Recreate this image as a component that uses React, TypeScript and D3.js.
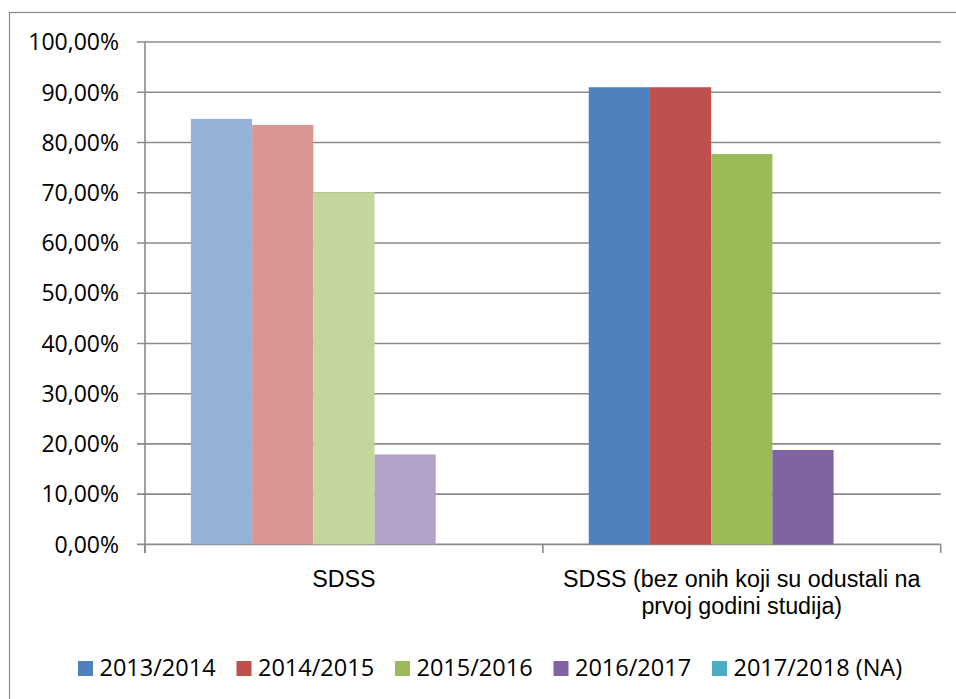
import * as d3 from "d3"

// categories and series (values in %)
const categories = ["SDSS", "SDSS (bez onih koji su odustali na prvoj godini studija)"]
const categoryLines = [["SDSS"], ["SDSS (bez onih koji su odustali na", "prvoj godini studija)"]]
const seriesNames = ["2013/2014", "2014/2015", "2015/2016", "2016/2017", "2017/2018 (NA)"]
const v2013 = [84.7, 91.0]
const v2014 = [83.5, 91.0]
const v2015 = [70.1, 77.7]
const v2016 = [17.9, 18.8]
const v2017 = [0, 0]
const yTicks = [0, 10, 20, 30, 40, 50, 60, 70, 80, 90, 100]

const seriesValues = [v2013, v2014, v2015, v2016, v2017]
// first category uses lighter shades
const baseColors = ["#4F81BD", "#C0504D", "#9BBB59", "#8064A2", "#4BACC6"]
const lightColors = ["#95B3D7", "#D99694", "#C3D69B", "#B2A2C7", "#93CDDD"]

const W = 956
const H = 699
const font = "'Open Sans', sans-serif"
const catFont = "'Liberation Sans', Arial, sans-serif"

export default function App() {
  const left = 145
  const right = 940.7
  const top = 42
  const bottom = 544.4

  const y = d3.scaleLinear().domain([0, 100]).range([bottom, top])
  const x0 = d3.scaleBand<string>().domain(categories).range([left, right]).padding(0)
  const x1 = d3
    .scaleBand<string>()
    .domain(seriesNames)
    .range([0, x0.bandwidth()])
    .paddingInner(0)
    .paddingOuter(0.75)

  const fmt = (v: number) => d3.format(".2f")(v).replace(".", ",") + "%"

  const catEdges = [left, ...categories.map(c => (x0(c) as number) + x0.bandwidth())]

  const legendX = d3.scalePoint<string>().domain(seriesNames).range([78, 712])

  return (
    <svg
      width={W}
      height={H}
      style={{ position: "absolute", left: 0, top: 0, background: "#fff" }}
      fontFamily={font}
    >
      <rect x={0} y={0} width={W} height={H} fill="#fff" />
      <rect x={9.5} y={12.5} width={950} height={700} fill="none" stroke="#888" strokeWidth={1.2} />

      {/* gridlines and y ticks */}
      {yTicks.map(t => (
        <g key={t}>
          <line x1={137} x2={right} y1={y(t)} y2={y(t)} stroke="#8a8a8a" strokeWidth={1.6} />
          <text
            x={119}
            y={y(t)}
            dy="0.36em"
            textAnchor="end"
            fontSize={23}
            fill="#000"
          >
            {fmt(t)}
          </text>
        </g>
      ))}

      {/* y axis line */}
      <line x1={left} x2={left} y1={top} y2={553} stroke="#8a8a8a" strokeWidth={1.6} />
      {/* category ticks */}
      {catEdges.map((e, i) => (
        <line key={i} x1={e} x2={e} y1={bottom} y2={553} stroke="#8a8a8a" strokeWidth={1.6} />
      ))}

      {/* bars */}
      {categories.map((c, ci) => (
        <g key={c} transform={`translate(${x0(c)},0)`}>
          {seriesNames.map((s, si) => {
            const v = seriesValues[si][ci]
            if (!v) return null
            return (
              <rect
                key={s}
                x={x1(s)}
                y={y(v)}
                width={x1.bandwidth()}
                height={y(0) - y(v)}
                fill={ci === 0 ? lightColors[si] : baseColors[si]}
              />
            )
          })}
        </g>
      ))}

      {/* category labels, one text per line */}
      {categories.map((c, ci) =>
        categoryLines[ci].map((ln, li) => (
          <text
            key={c + li}
            x={(x0(c) as number) + x0.bandwidth() / 2}
            y={587 + li * 27}
            textAnchor="middle"
            fontFamily={catFont}
            fontSize={23.3}
            fill="#000"
          >
            {ln}
          </text>
        ))
      )}

      {/* legend */}
      {seriesNames.map((s, si) => (
        <g key={s} transform={`translate(${legendX(s)},661)`}>
          <rect x={0} y={0} width={15} height={15} fill={baseColors[si]} />
          <text x={21.5} y={15} fontSize={23.5} fill="#000">
            {s}
          </text>
        </g>
      ))}
    </svg>
  )
}
